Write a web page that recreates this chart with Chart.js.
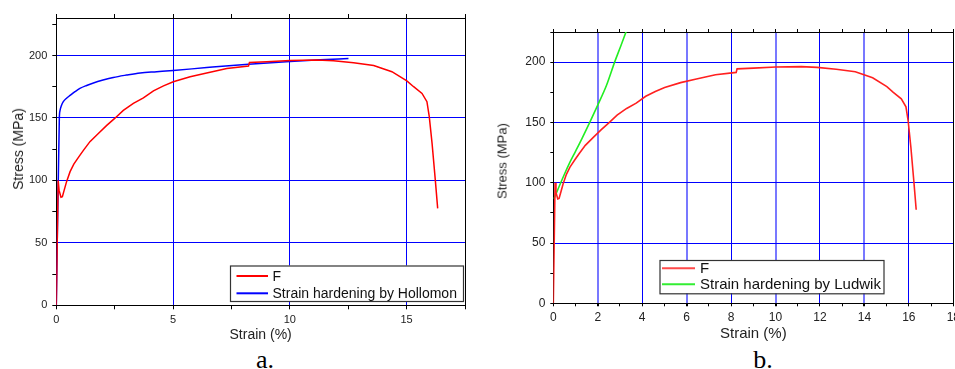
<!DOCTYPE html>
<html><head><meta charset="utf-8">
<script src="https://cdn.jsdelivr.net/npm/chart.js@4.4.1/dist/chart.umd.min.js"></script>
<style>
html,body{margin:0;padding:0;background:#fff;overflow:hidden;width:955px;height:369px;position:relative;}
#ca{position:absolute;left:0;top:0;}
#cb{position:absolute;left:480px;top:0;}
.ytitle{position:absolute;font-family:"Liberation Sans",Arial,sans-serif;color:#222;white-space:nowrap;transform:translate(-50%,-50%) rotate(-90deg);}
.cap{position:absolute;font-family:"Liberation Serif","Times New Roman",serif;font-size:26px;line-height:26px;color:#000;top:347px;transform:translateX(-50%);}
</style></head>
<body>
<canvas id="ca" width="480" height="345"></canvas>
<canvas id="cb" width="500" height="345"></canvas>
<div class="ytitle" style="left:17.5px;top:149px;font-size:14px;">Stress (MPa)</div>
<div class="ytitle" style="left:501.5px;top:161px;font-size:13px;">Stress (MPa)</div>
<div class="cap" style="left:265px;">a.</div>
<div class="cap" style="left:763px;">b.</div>
<script>
// ---- data ----
const strainF = [0,0.04,0.08,0.12,0.2,0.26,0.35,0.44,0.59,0.75,0.97,1.16,1.44,1.8,2.16,2.5,2.87,3.3,3.73,4.16,4.59,5.01,5.73,6.44,7.3,8.23,8.27,9.01,10.01,11.16,11.87,12.73,13.59,14.37,15.01,15.3,15.66,15.87,15.97,16.09,16.23,16.33];
const stressF = [0,50,100,92,86.5,87,93,99,107,113,119,124,131,137.6,144,149.6,156,161.6,166,171.7,175.7,179,183,186,189.6,191.5,194.4,195,196,196.3,195.7,194.1,192,187,179.7,175,169.6,163,151,129.6,100,77.6];
const strainHollomon = [0,0.13,0.16,0.22,0.3,0.45,0.59,0.8,1.01,1.3,1.59,2,2.44,3,3.59,4.3,5.01,6.44,8.23,10.01,11.3,12.51];
const stressHollomon = [0,150,156,160,163,166,168,171,173.6,176,178,180.3,182.4,184.3,186,187,188,190.3,193,195.2,196.6,197.6];
const strainLudwik = [0.03,0.5,0.75,1,1.3,1.64,2,2.4,2.76,3.05,3.3];
const stressLudwik = [86.7,107,117,126,137,150,164.4,181,200,214,226.5];
const seriesLabelsA = ['F','Strain hardening by Hollomon'];
const seriesLabelsB = ['F','Strain hardening by Ludwik'];
const xTicksA = [0,2.5,5,7.5,10,12.5,15,17.5];
const xTickLabelsA = ['0','','5','','10','','15',''];
const yTicks = [0,25,50,75,100,125,150,175,200,225];
const yTickLabels = ['0','','50','','100','','150','','200',''];
const xTicksB = [0,1,2,3,4,5,6,7,8,9,10,11,12,13,14,15,16,17,18];
const xTickLabelsB = ['0','','2','','4','','6','','8','','10','','12','','14','','16','','18'];

const FONT = '"Liberation Sans", Arial, sans-serif';
const BLUE = '#0000ff';
const pts = (xs, ys) => xs.map((x, i) => ({x, y: ys[i]}));

const frame = {
  id: 'frame',
  afterDatasetsDraw(chart) {
    const {ctx, chartArea: a} = chart;
    ctx.save();
    ctx.strokeStyle = '#000'; ctx.lineWidth = 1;
    const x = Math.round(a.right) + 0.5;
    ctx.beginPath(); ctx.moveTo(x, a.top); ctx.lineTo(x, a.bottom); ctx.stroke();
    ctx.restore();
  }
};
const boxLegend = {
  id: 'boxLegend',
  afterDraw(chart, args, o) {
    const ctx = chart.ctx;
    ctx.save();
    ctx.fillStyle = '#fff';
    ctx.fillRect(o.left, o.top, o.width, o.height);
    ctx.strokeStyle = '#333'; ctx.lineWidth = 1.2;
    ctx.strokeRect(o.left + 0.5, o.top + 0.5, o.width, o.height);
    ctx.font = o.font; ctx.textBaseline = 'middle'; ctx.fillStyle = '#111';
    chart.data.datasets.forEach((ds, i) => {
      const y = o.rows[i];
      ctx.strokeStyle = o.colors[i]; ctx.lineWidth = 2;
      ctx.beginPath(); ctx.moveTo(o.lineX1, y); ctx.lineTo(o.lineX2, y); ctx.stroke();
      ctx.fillText(ds.label, o.textX, y + 1);
    });
    ctx.restore();
  }
};

function scales(g) {
  const setTicks = (vals) => (s) => { s.ticks = vals.map(v => ({value: v})); };
  return {
    x: {
      type: 'linear', position: 'bottom', min: 0, max: g.xMax,
      afterBuildTicks: setTicks(g.xTicks),
      afterFit: s => { s.height = g.xH; },
      ticks: {autoSkip: false, maxRotation: 0, padding: g.xPad, color: '#222',
              font: {family: FONT, size: g.tickSize}, callback: (v, i) => g.xLabels[i]},
      grid: {color: c => (g.xLabels[c.index] && c.tick && c.tick.value !== 0) ? g.xGridColor(c.tick.value) : 'rgba(0,0,0,0)',
             lineWidth: c => (c.tick ? g.xGridWidth(c.tick.value) : 1),
             tickColor: '#000', tickLength: g.tickLen},
      border: {color: '#000', width: 1},
      title: {display: true, text: 'Strain (%)', color: '#222',
              font: {family: FONT, size: g.titleSize}, padding: {top: 0, bottom: g.titleBottom}}
    },
    x2: {
      type: 'linear', position: 'top', min: 0, max: g.xMax,
      afterBuildTicks: setTicks(g.xTicks),
      afterFit: s => { s.height = g.tickLen; },
      ticks: {display: false},
      grid: {drawOnChartArea: false, tickColor: '#000', tickLength: g.tickLen},
      border: {color: '#000', width: 1}
    },
    y: {
      type: 'linear', position: 'left', min: 0, max: g.yMax,
      afterBuildTicks: setTicks(yTicks.filter(v => v <= g.yMax)),
      afterFit: s => { s.width = g.yW; },
      ticks: {autoSkip: false, padding: g.yPad, color: '#222',
              font: {family: FONT, size: g.tickSize}, callback: (v, i) => yTickLabels[i]},
      grid: {color: c => (yTickLabels[c.index] && c.tick && c.tick.value !== 0) ? BLUE : 'rgba(0,0,0,0)',
             tickColor: '#000', tickLength: g.tickLen},
      border: {color: '#000', width: 1}
    }
  };
}

new Chart(document.getElementById('ca'), {
  type: 'line',
  data: {datasets: [
    {label: seriesLabelsA[0], data: pts(strainF, stressF), borderColor: '#ff0000', borderWidth: 1.5, pointRadius: 0, tension: 0, xAxisID: 'x', yAxisID: 'y'},
    {label: seriesLabelsA[1], data: pts(strainHollomon, stressHollomon), borderColor: '#0000ff', borderWidth: 1.5, pointRadius: 0, cubicInterpolationMode: 'monotone', xAxisID: 'x', yAxisID: 'y'}
  ]},
  options: {
    responsive: false, animation: false, devicePixelRatio: 1,
    layout: {padding: {left: 0, top: 14, right: 15, bottom: 0}},
    plugins: {
      legend: {display: false}, tooltip: {enabled: false},
      boxLegend: {left: 230, top: 265.5, width: 233, height: 35.5, rows: [276, 293.3],
                  lineX1: 236.5, lineX2: 268, textX: 272.5, font: '14px ' + FONT, colors: ['#ff0000', '#0000ff']}
    },
    scales: scales({xMax: 17.5, yMax: 230, xTicks: xTicksA, xLabels: xTickLabelsA, xH: 39.7, yW: 56.3,
                    xPad: 4, yPad: 5, tickLen: 4, tickSize: 11, titleSize: 14, titleBottom: 1.6,
                    xGridColor: () => BLUE, xGridWidth: () => 1})
  },
  plugins: [frame, boxLegend]
});

new Chart(document.getElementById('cb'), {
  type: 'line',
  data: {datasets: [
    {label: seriesLabelsB[0], data: pts(strainF, stressF), borderColor: '#ff2020', borderWidth: 1.6, pointRadius: 0, tension: 0, xAxisID: 'x', yAxisID: 'y'},
    {label: seriesLabelsB[1], data: pts(strainLudwik, stressLudwik), borderColor: '#22ee22', borderWidth: 1.6, pointRadius: 0, cubicInterpolationMode: 'monotone', xAxisID: 'x', yAxisID: 'y'}
  ]},
  options: {
    responsive: false, animation: false, devicePixelRatio: 1,
    layout: {padding: {left: 0, top: 29, right: 26.7, bottom: 0}},
    plugins: {
      legend: {display: false}, tooltip: {enabled: false},
      boxLegend: {left: 179.5, top: 260, width: 224, height: 33.3, rows: [268.3, 284.3],
                  lineX1: 182, lineX2: 215, textX: 220, font: '15px ' + FONT, colors: ['#ff4a4a', '#33ee33']}
    },
    scales: scales({xMax: 18, yMax: 225, xTicks: xTicksB, xLabels: xTickLabelsB, xH: 41.7, yW: 73.3,
                    xPad: 4, yPad: 5, tickLen: 3, tickSize: 12, titleSize: 15, titleBottom: 2.5,
                    xGridColor: v => ([2, 6, 10, 14].includes(v) ? '#7878ff' : BLUE),
                    xGridWidth: v => ([2, 6, 10, 14].includes(v) ? 2 : 1)})
  },
  plugins: [frame, boxLegend]
});
</script>
</body></html>
